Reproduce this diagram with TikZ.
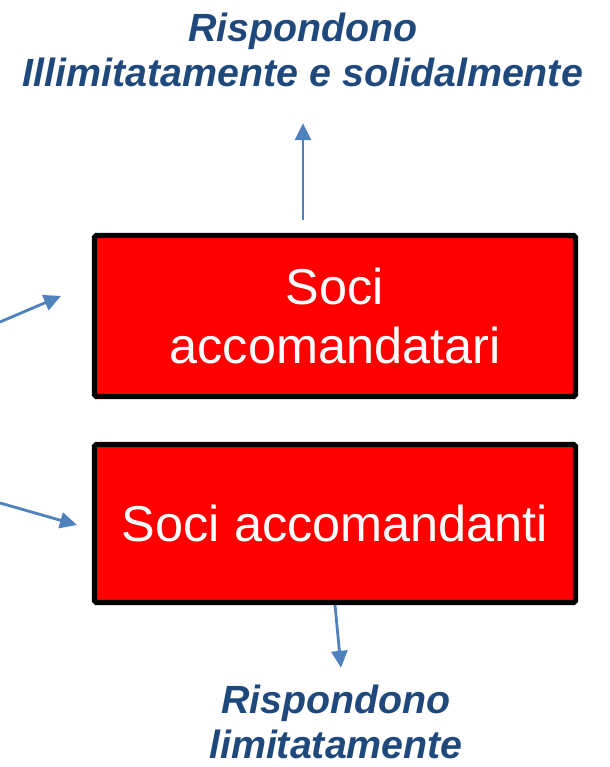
\documentclass[tikz,border=0pt]{standalone}
\usepackage{fontspec}
\setmainfont{Liberation Sans}
\usetikzlibrary{arrows.meta}
\definecolor{darkblue}{RGB}{31,73,125}
\definecolor{arrowblue}{RGB}{79,129,189}

\tikzset{
	socibox/.style={draw=black,line width=2.9pt,fill=red,rounded corners=1pt,minimum width=9.62cm,align=center,text=white,font=\fontsize{28.7}{34}\selectfont},
	resp/.style={align=center,text=darkblue,font=\fontsize{22.4}{25.6}\selectfont\bfseries\itshape},
	link/.style={draw=arrowblue,line width=1.6pt,-{Triangle[length=0.34cm,width=0.32cm]}}
}

\begin{document}
\begin{tikzpicture}
			\useasboundingbox (0,0) rectangle (12.18,15.34);
			\coordinate (c_upper) at (6.7,9.02);
			\coordinate (c_lower) at (6.7,4.87);
			\coordinate (left_upper) at (0,8.9);
			\coordinate (left_lower) at (0,5.28);
			
			\node[socibox,minimum height=3.22cm] (box_upper) at (c_upper) {Soci\\accomandatari};
			\node[socibox,minimum height=3.16cm] (box_lower) at (c_lower) {Soci accomandanti};
			
			\node[resp] (resp_upper) at (6.06,14.34) {Rispondono\\Illimitatamente e solidalmente};
			\node[resp] (resp_lower) at (6.72,0.9) {Rispondono\\limitatamente};
			
			\draw[link,shorten <=0.26cm,shorten >=0.6cm] (box_upper.north -| resp_upper) -- (resp_upper.south);
			\draw[link] (box_lower.south) -- ([shift={(0.1,0.22)}]resp_lower.north);
			\draw[link] (left_upper) -- ([shift={(-0.62,0.4)}]box_upper.west);
			\draw[link] (left_lower) -- ([shift={(-0.3,-0.03)}]box_lower.west);
		\end{tikzpicture}
\end{document}
